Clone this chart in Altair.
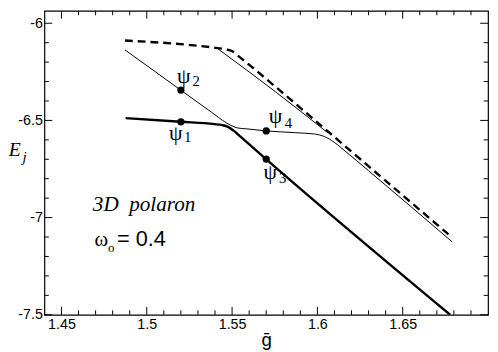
import altair as alt
import pandas as pd

# ---- data ----
dash_x = [1.4872, 1.5416, 1.5464, 1.5499, 1.5533, 1.5580, 1.5753, 1.6271, 1.6780]
dash_y = [-6.089, -6.128, -6.134, -6.143, -6.166, -6.199, -6.326, -6.714, -7.095]

upper_x = [1.5416, 1.5752, 1.6060]
upper_y = [-6.131, -6.351, -6.563]

lower_x = [1.4872, 1.5199, 1.5378, 1.5464, 1.5499, 1.5533, 1.5580, 1.5701, 1.5868,
           1.5983, 1.6041, 1.6098, 1.6156, 1.6300, 1.6790]
lower_y = [-6.137, -6.344, -6.457, -6.511, -6.528, -6.539, -6.543, -6.554, -6.563,
           -6.570, -6.583, -6.612, -6.653, -6.759, -7.125]

thick_x = [1.4876, 1.5199, 1.5395, 1.5441, 1.5476, 1.5511, 1.5551, 1.5699, 1.6778]
thick_y = [-6.488, -6.507, -6.519, -6.524, -6.533, -6.554, -6.585, -6.699, -7.500]

mark_x = [1.52, 1.52, 1.57, 1.57]
mark_y = [-6.507, -6.344, -6.699, -6.554]

psi_text = ["ψ", "ψ", "ψ", "ψ"]
psi_x = [1.5170, 1.5217, 1.5724, 1.5754]
psi_y = [-6.565, -6.270, -6.768, -6.479]
sub_text = ["1", "2", "3", "4"]
sub_x = [1.5240, 1.5290, 1.5796, 1.5830]
sub_y = [-6.588, -6.296, -6.798, -6.514]

x_major = [1.45, 1.5, 1.55, 1.6, 1.65]
x_minor = [1.46, 1.47, 1.48, 1.49, 1.51, 1.52, 1.53, 1.54, 1.56, 1.57, 1.58, 1.59,
           1.61, 1.62, 1.63, 1.64, 1.66, 1.67, 1.68, 1.69]
y_major = [-7.5, -7, -6.5, -6]
y_minor = [-7.4, -7.3, -7.2, -7.1, -6.9, -6.8, -6.7, -6.6, -6.4, -6.3, -6.2, -6.1]

W, H = 451, 309
xs = alt.Scale(domain=[1.44, 1.70], nice=False, zero=False)
ys = alt.Scale(domain=[-7.5, -5.936], nice=False, zero=False)


def enc(chart, xaxis=None, yaxis=None):
    return chart.encode(
        x=alt.X("x:Q", scale=xs, axis=xaxis, title=None),
        y=alt.Y("y:Q", scale=ys, axis=yaxis, title=None),
    )


def line(xv, yv, width, dash=None):
    df = pd.DataFrame({"x": xv, "y": yv})
    kw = dict(color="black", strokeWidth=width, interpolate="monotone", clip=True)
    if dash:
        kw["strokeDash"] = dash
    return enc(alt.Chart(df).mark_line(**kw))


layers = [
    line(dash_x, dash_y, 2.4, [8, 5]),
    line(upper_x, upper_y, 1.0),
    line(lower_x, lower_y, 1.0),
    line(thick_x, thick_y, 2.4),
]

mdf = pd.DataFrame({"x": mark_x, "y": mark_y})
layers.append(enc(alt.Chart(mdf).mark_point(filled=True, color="black", size=55, opacity=1)))

pdf = pd.DataFrame({"x": psi_x, "y": psi_y, "t": psi_text})
layers.append(enc(alt.Chart(pdf).mark_text(font="Liberation Serif", fontSize=22, color="black",
                                           align="center", baseline="middle")).encode(text="t:N"))
sdf = pd.DataFrame({"x": sub_x, "y": sub_y, "t": sub_text})
layers.append(enc(alt.Chart(sdf).mark_text(font="Liberation Serif", fontSize=15, color="black",
                                           align="center", baseline="middle")).encode(text="t:N"))

# annotations
ann_polaron = pd.DataFrame({"x": [1.4684], "y": [-6.968], "t": ["3D \u00a0polaron"]})
layers.append(enc(alt.Chart(ann_polaron).mark_text(
    font="Liberation Serif", fontStyle="italic", fontSize=21.5, color="black", align="left",
    baseline="alphabetic")).encode(text="t:N"))
ann_E = pd.DataFrame({"x": [1.4191], "y": [-6.681], "t": ["E"]})
layers.append(enc(alt.Chart(ann_E).mark_text(
    font="Liberation Serif", fontStyle="italic", fontSize=20, color="black", align="left",
    baseline="alphabetic")).encode(text="t:N"))
ann_j = pd.DataFrame({"x": [1.4272], "y": [-6.715], "t": ["j"]})
layers.append(enc(alt.Chart(ann_j).mark_text(font="Liberation Serif", fontStyle="italic",
                                             fontSize=15, color="black", align="left",
                                             baseline="alphabetic")).encode(text="t:N"))
ann_w = pd.DataFrame({"x": [1.4693], "y": [-7.1455], "t": ["ω"]})
layers.append(enc(alt.Chart(ann_w).mark_text(font="Liberation Serif", fontSize=21, color="black",
                                             align="left", baseline="alphabetic")).encode(text="t:N"))
ann_o = pd.DataFrame({"x": [1.4773], "y": [-7.179], "t": ["o"]})
layers.append(enc(alt.Chart(ann_o).mark_text(font="Liberation Serif", fontSize=13, color="black",
                                             align="left", baseline="alphabetic")).encode(text="t:N"))
ann_v = pd.DataFrame({"x": [1.4826], "y": [-7.1455], "t": ["= 0.4"]})
layers.append(enc(alt.Chart(ann_v).mark_text(font="Liberation Sans", fontSize=22, color="black",
                                             align="left", baseline="alphabetic")).encode(text="t:N"))

# labelled axes (no ticks; ticks drawn inward below)
lab = dict(labelFont="Liberation Sans", labelFontSize=14.5, labelColor="black",
           labelExpr="'' + datum.value", labelFlush=False, labelOverlap=False)
ax_lab_x = alt.Axis(orient="bottom", values=x_major, ticks=False, tickSize=0, domain=False,
                    grid=False, labelPadding=3, title="ḡ", titleFont="Liberation Sans",
                    titleFontSize=19, titleFontWeight="normal", titleColor="black",
                    titlePadding=0, **lab)
ax_lab_y = alt.Axis(orient="left", values=y_major, ticks=False, tickSize=0, domain=False,
                    grid=False, labelPadding=2, title=None, **lab)
layers.append(enc(alt.Chart(mdf).mark_point(opacity=0), ax_lab_x, ax_lab_y))


# inward ticks on all four sides, placed through the scales
def xticks(vals, y0, y1):
    df = pd.DataFrame({"v": vals})
    return alt.Chart(df).mark_rule(color="black", strokeWidth=1).encode(
        x=alt.X("v:Q", scale=xs, axis=None), y=alt.value(y0), y2=alt.value(y1))


def yticks(vals, x0, x1):
    df = pd.DataFrame({"v": vals})
    return alt.Chart(df).mark_rule(color="black", strokeWidth=1).encode(
        y=alt.Y("v:Q", scale=ys, axis=None), x=alt.value(x0), x2=alt.value(x1))


MAJ, MIN = 8, 4.5
layers += [
    xticks(x_major, H, H - MAJ), xticks(x_minor, H, H - MIN),
    xticks(x_major, 0, MAJ), xticks(x_minor, 0, MIN),
    yticks(y_major, 0, MAJ), yticks(y_minor, 0, MIN),
    yticks(y_major, W, W - MAJ), yticks(y_minor, W, W - MIN),
]

chart = (
    alt.layer(*layers)
    .resolve_axis(x="independent", y="independent")
    .properties(width=W, height=H, autosize=alt.AutoSizeParams(type="none"),
                padding={"left": 37, "top": 0, "right": 2, "bottom": 35})
    .configure_view(stroke="black", strokeWidth=1.2)
)

chart.save("out.html", embed_options={"renderer": "svg", "actions": False})
